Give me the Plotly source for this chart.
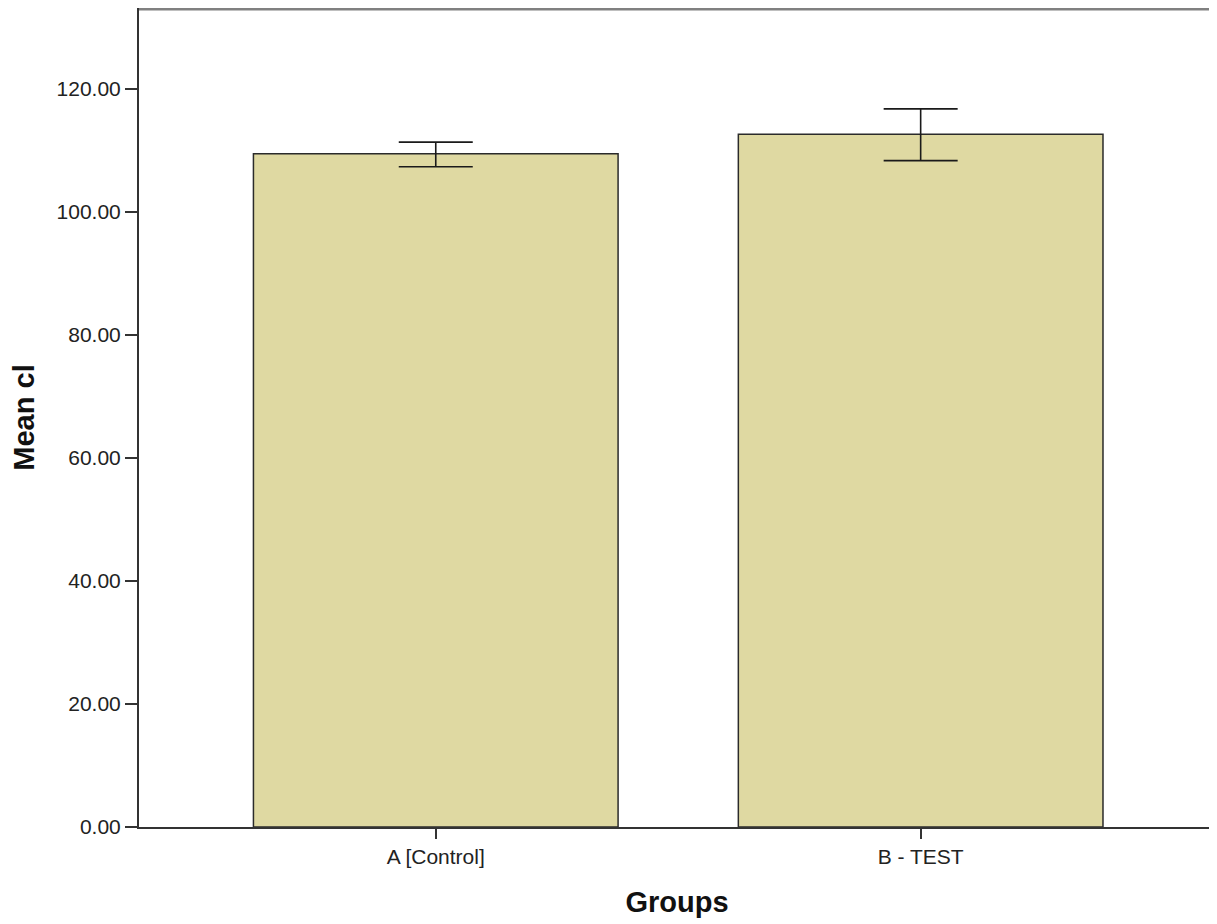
import plotly.graph_objects as go

categories = ["A [Control]", "B - TEST"]
means = [109.4, 112.6]
err_plus = [1.9, 4.1]
err_minus = [2.1, 4.3]
y_ticks = [0, 20, 40, 60, 80, 100, 120]

fig = go.Figure()
fig.add_trace(go.Bar(
    x=[0, 1],
    y=means,
    width=0.752,
    marker=dict(color="#DFD9A2", line=dict(color="#2b2b2b", width=1.5)),
    error_y=dict(type="data", symmetric=False, array=err_plus, arrayminus=err_minus,
                 color="#1a1a1a", thickness=1.6, width=37),
))

fig.update_layout(
    width=1209, height=916,
    margin=dict(l=131, r=2, t=0, b=97),
    paper_bgcolor="white", plot_bgcolor="white",
    showlegend=False,
    font=dict(family="Liberation Sans, Arial, sans-serif", color="#222"),
    xaxis=dict(
        range=[-0.612, 1.607],
        tickvals=[0, 1], ticktext=categories,
        ticks="outside", ticklen=10, tickcolor="#333", tickwidth=1.5,
        showline=True, linecolor="#333", linewidth=2,
        showgrid=False, zeroline=False,
        tickfont=dict(size=21, color="#222"),
        title=dict(text="<b>Groups</b>", font=dict(size=29, color="#111"), standoff=24),
    ),
    yaxis=dict(
        range=[0, 133.1],
        tickvals=y_ticks, tickformat=".2f",
        ticks="outside", ticklen=12, tickcolor="#333", tickwidth=1.5,
        showline=True, linecolor="#333", linewidth=2,
        showgrid=False, zeroline=False,
        tickfont=dict(size=21, color="#222"),
        title=dict(text="<b>Mean cl</b>", font=dict(size=29, color="#111"), standoff=16),
    ),
    shapes=[
        dict(type="line", xref="paper", yref="paper", x0=0, x1=1, y0=1, y1=1,
             line=dict(color="#808080", width=5)),
        dict(type="line", xref="paper", yref="paper", x0=1, x1=1, y0=0, y1=1,
             line=dict(color="#c8c8c8", width=2)),
    ],
)

fig.write_html("out.html")
